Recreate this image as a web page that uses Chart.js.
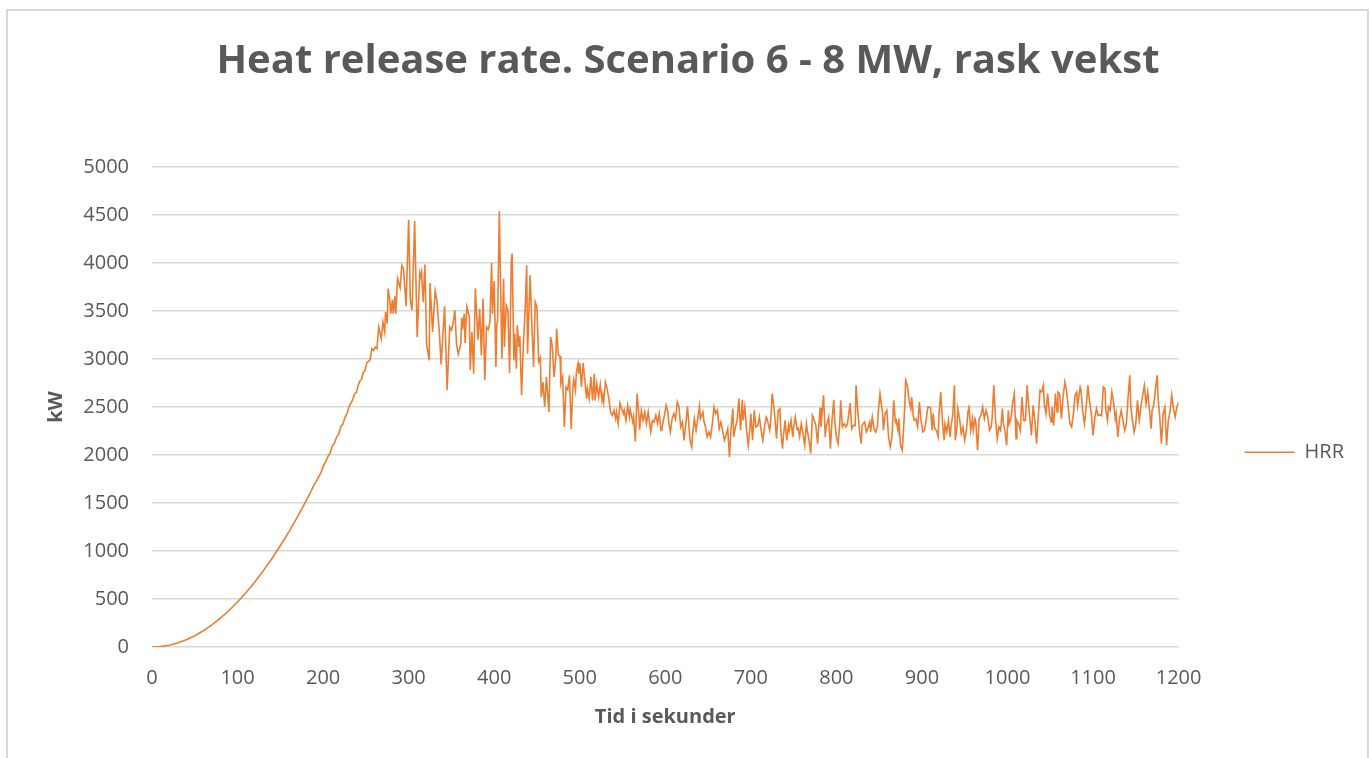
<!DOCTYPE html>
<html>
<head>
<meta charset="utf-8">
<title>Heat release rate. Scenario 6 - 8 MW, rask vekst</title>
<script src="https://cdn.jsdelivr.net/npm/chart.js@4.4.1/dist/chart.umd.min.js"></script>
<style>
  html, body { margin: 0; padding: 0; background: #ffffff; }
  #wrap { position: relative; width: 1371px; height: 758px; overflow: hidden; background: #ffffff; }
  #frame { position: absolute; left: 6px; top: 9px; width: 1363px; height: 800px; border: 2px solid #d9d9d9; box-sizing: border-box; pointer-events: none; }
  #hrr { position: absolute; left: 0; top: 0; }
</style>
</head>
<body>
<div id="wrap">
  <canvas id="hrr" width="1371" height="758"></canvas>
  <div id="frame"></div>
</div>
<script>
// Heat release rate, [time in s, HRR in kW]
const growthPhase = [
  [0, 0], [10, 5], [20, 19], [30, 42], [40, 75], [50, 117], [60, 169], [70, 230],
  [80, 300], [90, 380], [100, 469], [110, 567], [120, 675], [130, 793], [140, 919],
  [150, 1055], [160, 1200], [170, 1355], [180, 1520], [186, 1625], [190, 1700],
  [193, 1740], [195, 1775], [198, 1830], [200, 1880], [204, 1950], [206, 1990],
  [208, 2015], [211, 2100], [213, 2120], [216, 2190], [218, 2215], [221, 2300],
  [223, 2320], [226, 2400], [228, 2430], [231, 2520], [233, 2545], [235, 2590],
  [237, 2640], [239, 2650], [241, 2730], [243, 2770], [245, 2790], [247, 2860],
  [249, 2880], [251, 2960], [253, 2975]
];

const peakPhase = [
  [255, 2990], [257, 3108], [259, 3090], [261, 3125], [263, 3108], [265, 3333], [268, 3212],
  [270, 3385], [272, 3281], [273, 3490], [275, 3368], [276, 3733], [278, 3611], [279, 3472],
  [281, 3618], [282, 3472], [284, 3653], [285, 3472], [287, 3837], [290, 3743], [292, 3976],
  [294, 3941], [297, 3549], [300, 4451], [302, 3611], [304, 3507], [307, 4437], [310, 3229],
  [313, 3896], [314, 3861], [315, 3906], [317, 3594], [319, 3983], [321, 3160], [324, 2986],
  [325, 3792], [328, 3281], [331, 3708], [333, 3611], [336, 3264], [338, 2944], [342, 3549],
  [345, 2674], [348, 3333], [350, 3300], [352, 3375], [354, 3507], [356, 3153], [358, 3049],
  [361, 3160], [362, 3431], [363, 3306], [365, 3472], [366, 3167], [368, 3542], [371, 3437],
  [372, 2889], [374, 3281], [376, 2847], [378, 3733], [381, 3200], [383, 3524], [385, 3038],
  [387, 3628], [389, 2778], [391, 3333], [393, 3306], [395, 3385], [397, 4000], [398, 3472],
  [400, 3813], [402, 2917], [403, 3351], [404, 3403], [406, 4540], [409, 3003], [411, 3837],
  [412, 3125], [414, 3559], [416, 3507], [418, 2854], [420, 4028], [421, 4097], [423, 2986],
  [424, 3264], [426, 2899], [427, 3351], [429, 3125], [430, 3236], [432, 2622], [434, 3132],
  [436, 3472], [438, 3976], [439, 3056], [442, 3872], [444, 3368], [446, 2917], [448, 3594],
  [450, 3542], [452, 2969], [454, 3014], [455, 2604], [457, 2760], [459, 2500], [461, 2812],
  [464, 2448], [466, 3229], [468, 3125], [470, 2812], [472, 3021], [473, 3316], [475, 3038],
  [477, 3028], [478, 2743], [480, 2812], [482, 2292], [484, 2708], [486, 2681], [488, 2830],
  [490, 2270]
];

const decayPhase = [
  [492, 2708], [493, 2785], [495, 2674], [496, 2854], [498, 2951], [499, 2847], [500, 2958],
  [502, 2708], [504, 2958], [506, 2778], [508, 2587], [509, 2691], [511, 2587], [513, 2812],
  [515, 2569], [517, 2847], [518, 2569], [520, 2743], [522, 2604], [524, 2736], [526, 2569],
  [527, 2622], [528, 2552], [530, 2760], [532, 2691], [534, 2587], [536, 2448], [538, 2413],
  [540, 2465], [542, 2378], [543, 2448], [545, 2326], [547, 2542], [549, 2483], [551, 2431],
  [552, 2465], [554, 2361], [556, 2517], [558, 2396], [559, 2472], [562, 2344], [563, 2396],
  [565, 2142], [567, 2639], [569, 2431], [570, 2264], [572, 2465], [574, 2361], [576, 2448],
  [578, 2326], [580, 2448], [581, 2378], [583, 2240], [585, 2361], [587, 2344], [589, 2413],
  [591, 2326], [593, 2431], [595, 2257], [596, 2274], [599, 2413], [601, 2517], [603, 2448],
  [604, 2344]
];

const plateauPhase = [
  [606, 2240], [608, 2378], [610, 2431], [612, 2375], [614, 2552], [616, 2500], [618, 2292],
  [620, 2344], [622, 2153], [624, 2326], [626, 2507], [628, 2257], [629, 2153], [631, 2083],
  [632, 2222], [634, 2378], [636, 2257], [638, 2378], [640, 2507], [641, 2378], [644, 2448],
  [645, 2361], [647, 2292], [649, 2188], [651, 2240], [653, 2188], [655, 2326], [657, 2500],
  [659, 2431], [661, 2465], [663, 2274], [665, 2344], [667, 2257], [669, 2153], [671, 2205],
  [673, 2274], [675, 1979], [677, 2292], [679, 2483], [680, 2188], [682, 2292], [684, 2361],
  [686, 2587], [688, 2257], [690, 2576], [691, 2361], [693, 2500], [695, 2257], [697, 2101],
  [699, 2292], [700, 2431], [702, 2153], [704, 2465], [706, 2292], [708, 2300], [710, 2396],
  [712, 2257], [714, 2153], [716, 2292], [718, 2396], [719, 2378], [722, 2257], [723, 2326],
  [725, 2639], [727, 2500], [728, 2396], [730, 2170], [732, 2465], [734, 2483], [735, 2257],
  [737, 2066], [738, 2188], [740, 2361], [742, 2153], [744, 2309], [745, 2257], [747, 2361],
  [749, 2188], [750, 2292], [752, 2396], [754, 2264], [755, 2292], [757, 2188], [759, 2326],
  [761, 2222], [763, 2101], [765, 2326], [766, 2257], [768, 2153], [770, 2014], [772, 2413],
  [774, 2368], [776, 2309], [778, 2118], [781, 2493], [782, 2292], [785, 2622], [787, 2188],
  [788, 2292], [791, 2396], [793, 2066], [795, 2378], [797, 2576], [798, 2361], [800, 2188],
  [802, 2118], [804, 2326], [805, 2569], [807, 2292], [809, 2326], [811, 2292], [813, 2326],
  [815, 2465], [816, 2542], [818, 2274], [820, 2309], [822, 2309], [823, 2726], [825, 2465],
  [827, 2257], [829, 2118], [830, 2309], [833, 2344], [835, 2240], [836, 2257], [839, 2344],
  [840, 2240], [842, 2396], [844, 2274], [846, 2240], [848, 2292], [849, 2448], [851, 2639],
  [854, 2431], [855, 2257], [857, 2431], [859, 2465], [861, 2188], [863, 2083], [865, 2188],
  [867, 2569], [869, 2344], [870, 2361], [872, 2257], [873, 2378], [875, 2101], [877, 2049],
  [878, 2188], [880, 2517], [881, 2778], [883, 2726], [885, 2569], [887, 2483], [888, 2604],
  [890, 2396], [891, 2361], [893, 2378], [895, 2292], [897, 2552], [899, 2361], [901, 2240],
  [903, 2257], [905, 2368], [907, 2500], [910, 2495], [912, 2257], [913, 2431], [915, 2274],
  [917, 2257], [919, 2188], [920, 2431], [922, 2656], [924, 2344], [926, 2153], [927, 2326],
  [929, 2240], [931, 2361], [933, 2188], [934, 2292], [936, 2413], [938, 2726], [939, 2153],
  [941, 2292], [942, 2483], [944, 2378], [946, 2222], [948, 2292], [950, 2153], [952, 2257],
  [954, 2465], [955, 2517], [957, 2257], [959, 2378], [960, 2257], [962, 2378], [963, 2344],
  [965, 2049], [967, 2378], [969, 2413], [971, 2500], [973, 2378], [975, 2465], [977, 2396],
  [979, 2257], [981, 2292], [982, 2378], [984, 2726], [986, 2378], [988, 2170], [990, 2292],
  [992, 2257], [994, 2483], [995, 2344], [997, 2257], [999, 2101], [1001, 2465], [1002, 2326],
  [1004, 2378], [1006, 2535], [1008, 2639], [1010, 2170], [1011, 2361], [1013, 2326],
  [1015, 2257], [1017, 2604], [1019, 2361], [1021, 2361], [1023, 2726], [1024, 2604],
  [1026, 2396], [1028, 2205], [1030, 2517], [1032, 2361], [1034, 2118], [1036, 2396],
  [1038, 2674], [1040, 2656], [1042, 2726], [1043, 2535], [1045, 2431], [1047, 2639],
  [1049, 2431], [1051, 2344], [1052, 2500], [1054, 2309], [1056, 2639], [1058, 2448],
  [1059, 2656], [1061, 2639], [1063, 2378], [1065, 2604], [1067, 2760], [1069, 2674],
  [1071, 2500], [1073, 2326], [1075, 2292], [1077, 2420], [1079, 2622], [1081, 2656],
  [1082, 2517], [1085, 2708], [1086, 2674], [1088, 2448], [1090, 2326], [1092, 2500],
  [1094, 2726], [1096, 2552], [1098, 2431], [1100, 2205], [1102, 2378], [1104, 2483],
  [1106, 2413], [1108, 2420], [1110, 2410], [1112, 2708], [1114, 2691], [1115, 2465],
  [1117, 2361], [1118, 2500], [1120, 2465], [1122, 2656], [1124, 2552], [1126, 2378],
  [1127, 2431], [1129, 2188], [1131, 2378], [1133, 2465], [1135, 2361], [1137, 2257],
  [1139, 2326], [1141, 2604], [1143, 2830], [1144, 2535], [1146, 2361], [1148, 2240],
  [1150, 2326], [1152, 2569], [1154, 2361], [1156, 2500], [1158, 2622], [1160, 2726],
  [1162, 2535], [1164, 2656], [1166, 2465], [1168, 2274], [1169, 2465], [1171, 2517],
  [1173, 2691], [1175, 2830], [1176, 2604], [1178, 2396], [1180, 2118], [1182, 2431],
  [1184, 2500], [1186, 2101], [1188, 2361], [1190, 2448], [1192, 2622], [1194, 2483],
  [1196, 2396], [1198, 2500], [1200, 2550]
];

const seriesName = 'HRR';
const chartTitle = 'Heat release rate. Scenario 6 - 8 MW, rask vekst';
const xAxisTitle = 'Tid i sekunder';
const yAxisTitle = 'kW';
const xRange = [0, 1200], xStep = 100;
const yRange = [0, 5000], yStep = 500;

const TEXT = '#595959';
const FONT = "'Open Sans', 'Liberation Sans', sans-serif";
const PAD_LEFT = 22;
const PLOT_LEFT = 152;

const points = [...growthPhase, ...peakPhase, ...decayPhase, ...plateauPhase]
  .map(([t, kw]) => ({ x: t, y: kw }));

// plain integers on both axes, no thousands separator
const plainNumber = (value) => String(value);

new Chart(document.getElementById('hrr'), {
  type: 'line',
  data: {
    datasets: [{
      label: seriesName,
      data: points,
      borderColor: '#ED7D31',
      backgroundColor: '#ED7D31',
      borderWidth: 1.6,
      pointRadius: 0,
      tension: 0,
      fill: false
    }]
  },
  options: {
    responsive: false,
    animation: false,
    events: [],
    layout: { padding: { left: PAD_LEFT, right: 17, top: 0, bottom: 0 } },
    plugins: {
      title: {
        display: true,
        text: chartTitle,
        color: TEXT,
        font: { family: FONT, size: 40, weight: 'bold' },
        padding: { top: 38, bottom: 81 }
      },
      legend: {
        position: 'right',
        fullSize: false,
        labels: {
          usePointStyle: true,
          pointStyle: 'line',
          pointStyleWidth: 50,
          padding: 66,
          color: TEXT,
          font: { family: FONT, size: 20 }
        },
        title: {
          display: true,
          text: '',
          font: { family: FONT, size: 12 },
          padding: { top: 76, bottom: 0 }
        }
      },
      tooltip: { enabled: false }
    },
    scales: {
      x: {
        type: 'linear',
        min: xRange[0],
        max: xRange[1],
        ticks: {
          stepSize: xStep,
          color: TEXT,
          font: { family: FONT, size: 20 },
          padding: 19,
          maxRotation: 0,
          callback: plainNumber
        },
        grid: { display: false, drawTicks: false },
        border: { display: false },
        title: {
          display: true,
          text: xAxisTitle,
          color: TEXT,
          font: { family: FONT, size: 20, weight: 'bold' },
          padding: { top: 0, bottom: 29 }
        },
        afterFit: (scale) => { scale.height = 111; }
      },
      y: {
        min: yRange[0],
        max: yRange[1],
        ticks: {
          stepSize: yStep,
          color: TEXT,
          font: { family: FONT, size: 20 },
          padding: 23,
          callback: plainNumber
        },
        grid: { color: '#d9d9d9', lineWidth: 1.5, drawTicks: false },
        border: { display: false },
        title: {
          display: true,
          text: yAxisTitle,
          color: TEXT,
          font: { family: FONT, size: 20, weight: 'bold' },
          padding: { top: 22, bottom: 0 }
        },
        afterFit: (scale) => { scale.width = PLOT_LEFT - PAD_LEFT; }
      }
    }
  }
});
</script>
</body>
</html>
